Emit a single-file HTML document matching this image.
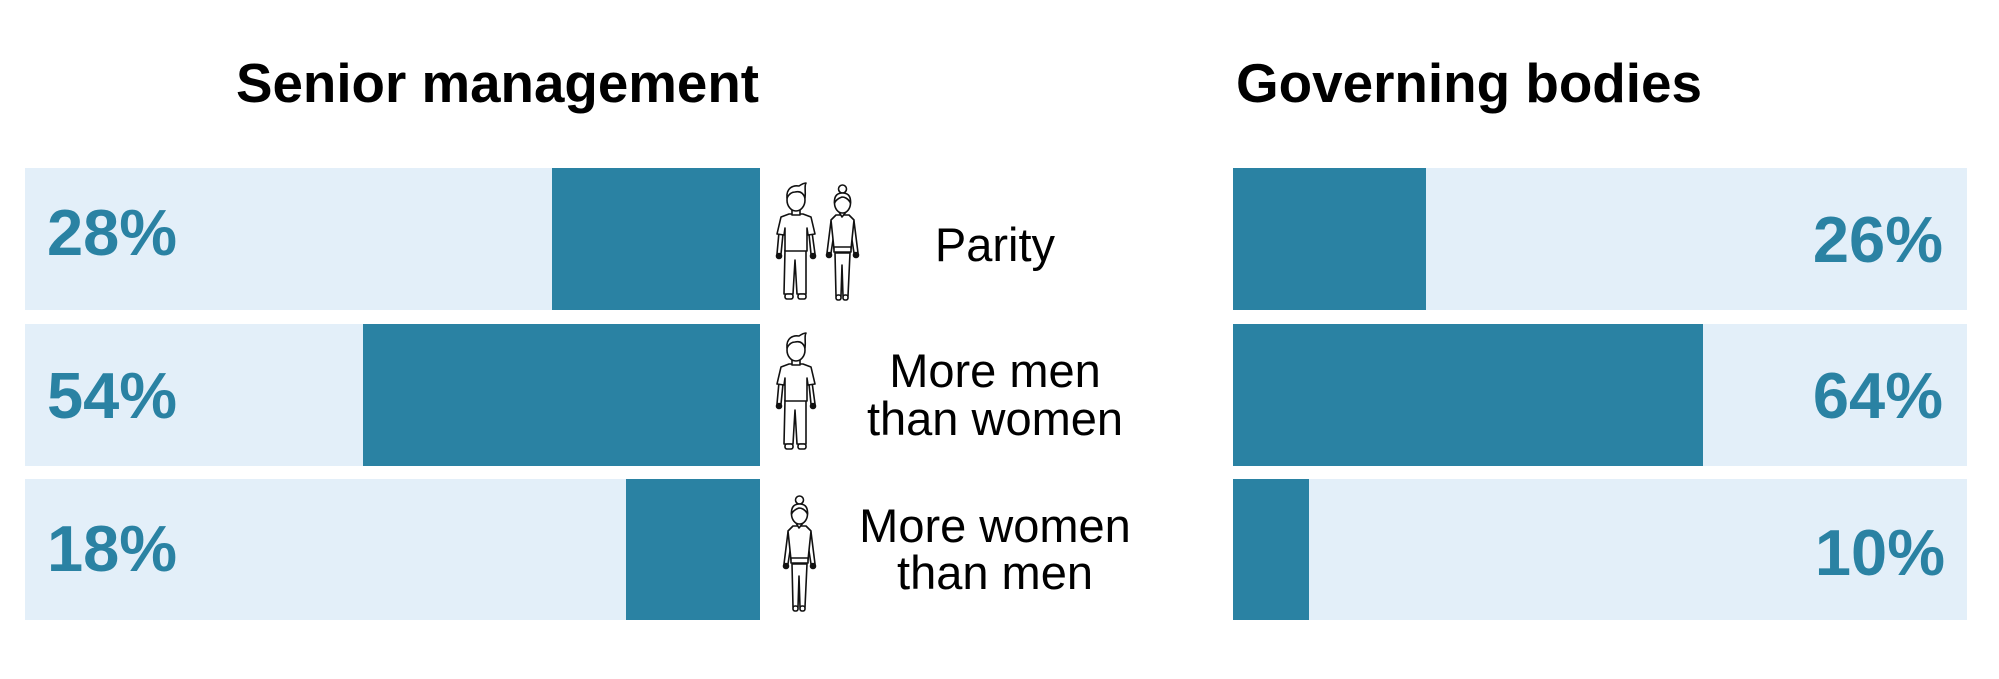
<!DOCTYPE html>
<html><head><meta charset="utf-8"><style>
html,body{margin:0;padding:0;background:#fff;}
svg{display:block;}
</style></head><body>
<svg width="1999" height="679" viewBox="0 0 1999 679" xmlns="http://www.w3.org/2000/svg" font-family="Liberation Sans, Arial, sans-serif">
<defs>
<g id="man" fill="#fff" stroke="#111" stroke-width="1.6" stroke-linejoin="round">
  <path d="M12 68 L11 112 L20 112 L22 78 L24 112 L33 112 L33 68 Z"/>
  <rect x="12" y="112" width="8" height="5" rx="2"/>
  <rect x="25" y="112" width="8" height="5" rx="2"/>
  <path d="M6 50 L4 72 L8 72 L10 52 Z"/>
  <path d="M39 50 L42 72 L38 72 L36 52 Z"/>
  <circle cx="6" cy="74" r="2.5" fill="#111"/>
  <circle cx="40" cy="74" r="2.5" fill="#111"/>
  <path d="M16 32 L8 35 L4 52 L11 53 L12 46 L12 69 L34 69 L34 46 L35 53 L42 52 L38 35 L30 32 Z"/>
  <rect x="19" y="27" width="8" height="6"/>
  <ellipse cx="23" cy="18" rx="9" ry="11"/>
  <path d="M14 16 C13 6 20 3 26 4 C29 2 32 1 33 1 C31 4 33 8 32 16 C30 10 26 9 22 10 C19 10 16 12 14 16 Z" fill="#fff"/>
</g>
<g id="woman" fill="#fff" stroke="#111" stroke-width="1.6" stroke-linejoin="round">
  <path d="M9 70 L10 113 L15 113 L16 82 L17 113 L22 113 L24 70 Z"/>
  <rect x="10" y="112" width="5" height="5" rx="2"/>
  <rect x="17" y="112" width="5" height="5" rx="2"/>
  <path d="M5 38 L1 70 L5 70 L9 44 Z"/>
  <path d="M28 38 L32 70 L28 70 L24 44 Z"/>
  <circle cx="3" cy="72" r="2.5" fill="#111"/>
  <circle cx="30" cy="72" r="2.5" fill="#111"/>
  <path d="M10 32 L5 37 L8 66 L25 66 L28 37 L23 32 Z"/>
  <rect x="8" y="64" width="17" height="5"/>
  <path d="M13 29 L16 34 L20 29"/>
  <ellipse cx="16.5" cy="20" rx="8" ry="10"/>
  <circle cx="16.5" cy="6" r="4"/>
  <path d="M8.5 20 C8 12 12 10 16.5 10 C21 10 25 12 24.5 20 C22 15 18 14 16 14 C13 15 10 17 8.5 20 Z"/>
</g>
</defs>

<text x="236" y="102" font-size="55" font-weight="bold" fill="#000" textLength="523" lengthAdjust="spacingAndGlyphs">Senior management</text>
<text x="1236" y="102" font-size="55" font-weight="bold" fill="#000" textLength="466" lengthAdjust="spacingAndGlyphs">Governing bodies</text>

<rect x="25" y="168" width="735" height="142" fill="#e3eff9"/>
<rect x="552" y="168" width="208" height="142" fill="#2a82a3"/>
<rect x="25" y="324" width="735" height="142" fill="#e3eff9"/>
<rect x="363" y="324" width="397" height="142" fill="#2a82a3"/>
<rect x="25" y="479" width="735" height="141" fill="#e3eff9"/>
<rect x="626" y="479" width="134" height="141" fill="#2a82a3"/>
<g font-size="65" font-weight="bold" fill="#2a82a3">
<text x="47" y="255">28%</text>
<text x="47" y="418">54%</text>
<text x="47" y="571">18%</text>
</g>

<rect x="1233" y="168" width="734" height="142" fill="#e3eff9"/>
<rect x="1233" y="168" width="193" height="142" fill="#2a82a3"/>
<rect x="1233" y="324" width="734" height="142" fill="#e3eff9"/>
<rect x="1233" y="324" width="470" height="142" fill="#2a82a3"/>
<rect x="1233" y="479" width="734" height="141" fill="#e3eff9"/>
<rect x="1233" y="479" width="76" height="141" fill="#2a82a3"/>
<g font-size="65" font-weight="bold" fill="#2a82a3" text-anchor="end">
<text x="1943" y="262">26%</text>
<text x="1943" y="418">64%</text>
<text x="1945" y="575">10%</text>
</g>

<use href="#man" x="773" y="182"/>
<use href="#woman" x="826" y="183"/>
<use href="#man" x="773" y="332"/>
<use href="#woman" x="783" y="494"/>

<g font-size="47" fill="#000" text-anchor="middle">
<text x="995" y="261">Parity</text>
<text x="995" y="387">More men</text>
<text x="995" y="435">than women</text>
<text x="995" y="542">More women</text>
<text x="995" y="589">than men</text>
</g>
</svg>
</body></html>
